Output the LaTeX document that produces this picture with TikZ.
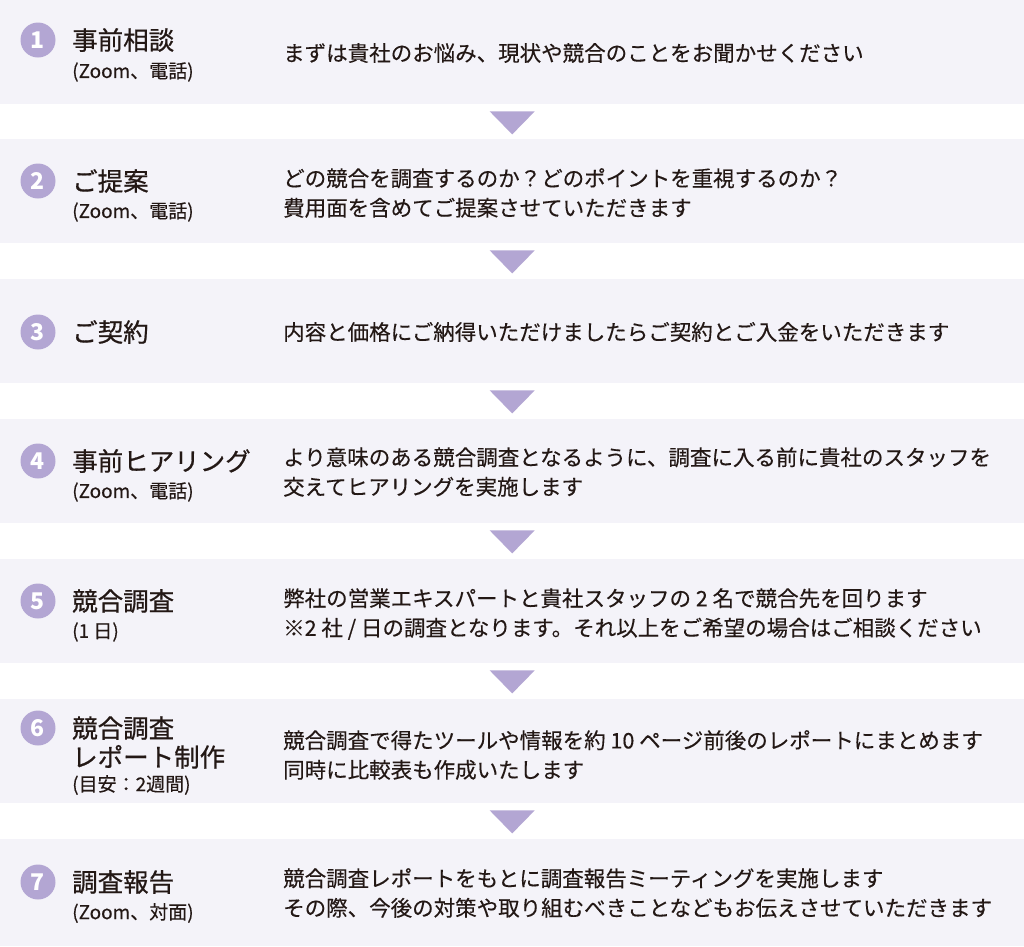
\documentclass[tikz,border=0pt]{standalone}
\usepackage{fontspec}
\setmainfont[FakeBold=0.3]{Noto Sans CJK JP}
\newfontfamily\ttlfont[FakeBold=0.7]{Noto Sans CJK JP}
\newfontfamily\numfont{Noto Sans CJK JP}
\usetikzlibrary{calc}
\definecolor{boxbg}{HTML}{F4F3F9}
\definecolor{lav}{HTML}{B3A6D3}
\definecolor{ink}{HTML}{231815}
\begin{document}
\begin{tikzpicture}[x=1pt,y=-1pt,
 box/.style={fill=boxbg,inner sep=0,minimum width=1024pt,minimum height=104pt,anchor=north west},
 num/.style={circle,fill=lav,minimum size=35pt,inner sep=0,text=white,font=\numfont\fontsize{23}{23}\selectfont\bfseries},
 ttl/.style={anchor=west,inner sep=0,text=ink,font=\ttlfont\fontsize{25.5}{25.5}\selectfont},
 sub/.style={anchor=west,inner sep=0,text=ink,font=\fontsize{19}{19}\selectfont},
 desc/.style={anchor=west,inner sep=0,text=ink,align=left,font=\fontsize{21.5}{29.5}\selectfont},
 tri/.style={fill=lav}]
\useasboundingbox[fill=white] (0,0) rectangle (1024,946);
% boxes
\node[box] (b1) at (0,0) {};
\node[box] (b2) at (0,139) {};
\node[box] (b3) at (0,279) {};
\node[box] (b4) at (0,419) {};
\node[box] (b5) at (0,559) {};
\node[box] (b6) at (0,699) {};
\node[box,minimum height=107pt] (b7) at (0,839) {};
% triangles
\foreach \i in {1,...,6}{
  \coordinate (t\i) at ($(b\i.south)+(0,7)$);
  \fill[tri] (t\i) ++(-22.5,0) -- ++(45,0) -- ++(-22.5,23) -- cycle;
}
% row 1
\node[num] (n1) at (38,40) {1};
\node[ttl] (h1) at (72,40) {事前相談};
\node[sub] (s1) at (72,72) {(Zoom、電話)};
\node[desc] (d1) at (283,53) {まずは貴社のお悩み、現状や競合のことをお聞かせください};
% row 2
\node[num] (n2) at (38,181) {2};
\node[ttl] (h2) at (72,181) {ご提案};
\node[sub] (s2) at (72,212) {(Zoom、電話)};
\node[desc] (d2) at (283,193) {どの競合を調査するのか？どのポイントを重視するのか？\\費用面を含めてご提案させていただきます};
% row 3
\node[num] (n3) at (38,332) {3};
\node[ttl] (h3) at (72,332) {ご契約};
\node[desc] (d3) at (283,332) {内容と価格にご納得いただけましたらご契約とご入金をいただきます};
% row 4
\node[num] (n4) at (38,461) {4};
\node[ttl] (h4) at (72,461) {事前ヒアリング};
\node[sub] (s4) at (72,492) {(Zoom、電話)};
\node[desc] (d4) at (283,472) {より意味のある競合調査となるように、調査に入る前に貴社のスタッフを\\交えてヒアリングを実施します};
% row 5
\node[num] (n5) at (38,601) {5};
\node[ttl] (h5) at (72,601) {競合調査};
\node[sub] (s5) at (72,632) {(1 日)};
\node[desc] (d5) at (283,614) {弊社の営業エキスパートと貴社スタッフの 2 名で競合先を回ります\\※2 社 / 日の調査となります。それ以上をご希望の場合はご相談ください};
% row 6
\node[num] (n6) at (38,728) {6};
\node[ttl,align=left,font=\ttlfont\fontsize{25.5}{29}\selectfont] (h6) at (72,742.5) {競合調査\\レポート制作};
\node[sub] (s6) at (72,785) {(目安：2週間)};
\node[desc] (d6) at (283,755) {競合調査で得たツールや情報を約 10 ページ前後のレポートにまとめます\\同時に比較表も作成いたします};
% row 7
\node[num] (n7) at (38,882) {7};
\node[ttl] (h7) at (72,882) {調査報告};
\node[sub] (s7) at (72,913) {(Zoom、対面)};
\node[desc] (d7) at (283,893) {競合調査レポートをもとに調査報告ミーティングを実施します\\その際、今後の対策や取り組むべきことなどもお伝えさせていただきます};
\end{tikzpicture}
\end{document}
